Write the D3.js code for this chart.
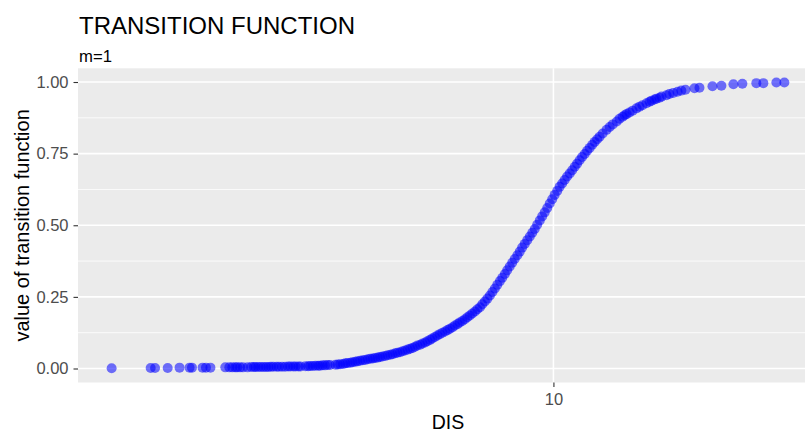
<!DOCTYPE html>
<html>
<head>
<meta charset="utf-8">
<script src="https://cdn.jsdelivr.net/npm/d3@7"></script>
<style>
  html, body { margin: 0; padding: 0; background: #fff; }
  svg { display: block; font-family: "Liberation Sans", Arial, sans-serif; }
</style>
</head>
<body>
<div id="chart"></div>
<script>
// DIS values (x) and transition function values (y)
const dis = [
  1.13, 1.37, 1.40, 1.49, 1.58, 1.66, 1.68, 1.77, 1.80, 1.84, 1.98, 2.02, 2.05, 2.08, 2.10, 2.13, 2.16, 2.21,
  2.25, 2.28, 2.30, 2.33, 2.36, 2.39, 2.42, 2.45, 2.48, 2.51, 2.55, 2.58, 2.62, 2.66, 2.70, 2.73, 2.77, 2.80,
  2.84, 2.87, 2.94, 2.98, 3.01, 3.05, 3.09, 3.13, 3.16, 3.20, 3.24, 3.28, 3.32,
  3.41, 3.45, 3.49, 3.54, 3.58, 3.62, 3.67, 3.71, 3.76, 3.80, 3.85, 3.90, 3.95, 4.00, 4.05, 4.10, 4.15, 4.20,
  4.25, 4.30, 4.36, 4.41, 4.47, 4.52, 4.58, 4.63, 4.69, 4.75, 4.81, 4.87, 4.93, 4.99, 5.05, 5.11, 5.18, 5.24,
  5.31, 5.37, 5.44, 5.50, 5.57, 5.64, 5.71, 5.78, 5.86, 5.93, 6.00, 6.08, 6.15, 6.23, 6.30, 6.38, 6.46, 6.54,
  6.62, 6.70, 6.79, 6.87, 6.96,
  7.04, 7.13, 7.22, 7.31, 7.40, 7.49, 7.58, 7.68, 7.77, 7.87, 7.96, 8.06, 8.16, 8.26, 8.37, 8.47,
  8.57, 8.68, 8.79, 8.90, 9.01, 9.12, 9.23, 9.35, 9.46, 9.58, 9.70, 9.82, 9.94, 10.06, 10.19, 10.31,
  10.44, 10.57, 10.70, 10.84, 10.97, 11.11, 11.24, 11.38, 11.52, 11.67, 11.81, 11.96, 12.11, 12.26, 12.41, 12.56,
  12.75, 13.00, 13.20, 13.40, 13.67, 13.86, 14.07, 14.21, 14.35, 14.56, 14.78, 15.07, 15.29, 15.52, 15.83,
  16.07, 16.23, 16.47, 16.63, 16.88, 17.05, 17.47, 17.72, 18.06, 18.45, 18.80, 19.19, 20.06, 20.56, 21.92,
  22.91, 24.31, 25.41, 27.22, 28.18, 30.05, 31.26
];
const tf = [
  0.001, 0.002, 0.002, 0.002, 0.003, 0.003, 0.003, 0.003, 0.003, 0.003, 0.004, 0.004, 0.004, 0.004, 0.004, 0.004, 0.004, 0.004,
  0.005, 0.005, 0.005, 0.005, 0.005, 0.005, 0.005, 0.005, 0.006, 0.006, 0.006, 0.006, 0.006, 0.006, 0.007, 0.007, 0.007, 0.007,
  0.007, 0.007, 0.008, 0.008, 0.009, 0.009, 0.010, 0.010, 0.010, 0.011, 0.011, 0.012, 0.012,
  0.013, 0.014, 0.015, 0.016, 0.018, 0.019, 0.020, 0.022, 0.024, 0.025, 0.027, 0.029, 0.030, 0.032, 0.034, 0.035, 0.037, 0.038,
  0.040, 0.042, 0.044, 0.046, 0.048, 0.050, 0.053, 0.055, 0.057, 0.060, 0.063, 0.066, 0.069, 0.072, 0.076, 0.080, 0.083, 0.087,
  0.091, 0.095, 0.100, 0.105, 0.110, 0.115, 0.120, 0.125, 0.129, 0.134, 0.139, 0.144, 0.150, 0.155, 0.161, 0.166, 0.172, 0.179,
  0.185, 0.192, 0.199, 0.207, 0.214,
  0.224, 0.234, 0.244, 0.255, 0.267, 0.279, 0.292, 0.305, 0.317, 0.330, 0.343, 0.356, 0.369, 0.382, 0.395, 0.408,
  0.422, 0.435, 0.448, 0.461, 0.474, 0.487, 0.502, 0.517, 0.531, 0.545, 0.560, 0.576, 0.591, 0.606, 0.620, 0.634,
  0.646, 0.658, 0.670, 0.681, 0.692, 0.704, 0.715, 0.727, 0.738, 0.749, 0.760, 0.770, 0.781, 0.791, 0.800, 0.809,
  0.820, 0.833, 0.843, 0.852, 0.862, 0.872, 0.879, 0.884, 0.888, 0.894, 0.900, 0.908, 0.914, 0.919, 0.926,
  0.931, 0.935, 0.939, 0.942, 0.945, 0.949, 0.954, 0.958, 0.962, 0.966, 0.970, 0.973, 0.978, 0.980, 0.985,
  0.987, 0.992, 0.994, 0.996, 0.996, 0.998, 0.998
];

const xTicks = [10];
const yTicks = [0, 0.25, 0.5, 0.75, 1];
const yMinor = [0.125, 0.375, 0.625, 0.875];

const W = 805, H = 433;
const panel = { left: 78, right: 818, top: 68.3, bottom: 382.5 };

const points = dis.map((d, i) => ({ x: d, y: tf[i] }));

// ggplot-style 5% expansion (x in log space)
const lx = d3.extent(dis).map(Math.log10);
const px = (lx[1] - lx[0]) * 0.05;
const x = d3.scaleLog()
  .domain([Math.pow(10, lx[0] - px), Math.pow(10, lx[1] + px)])
  .range([panel.left, panel.right]);

const ye = d3.extent(tf);
const py = (ye[1] - ye[0]) * 0.05;
const y = d3.scaleLinear()
  .domain([ye[0] - py, ye[1] + py])
  .range([panel.bottom, panel.top]);

const svg = d3.select('#chart').append('svg')
  .attr('width', W).attr('height', H);

// Panel background
svg.append('rect')
  .attr('x', panel.left).attr('y', panel.top)
  .attr('width', panel.right - panel.left)
  .attr('height', panel.bottom - panel.top)
  .attr('fill', '#EBEBEB');

// Grid lines
svg.append('g').selectAll('line.minor').data(yMinor).enter().append('line')
  .attr('x1', panel.left).attr('x2', panel.right)
  .attr('y1', d => y(d)).attr('y2', d => y(d))
  .attr('stroke', '#fff').attr('stroke-width', 0.8);

svg.append('g').selectAll('line.major').data(yTicks).enter().append('line')
  .attr('x1', panel.left).attr('x2', panel.right)
  .attr('y1', d => y(d)).attr('y2', d => y(d))
  .attr('stroke', '#fff').attr('stroke-width', 1.6);

svg.append('g').selectAll('line').data(xTicks).enter().append('line')
  .attr('x1', d => x(d)).attr('x2', d => x(d))
  .attr('y1', panel.top).attr('y2', panel.bottom)
  .attr('stroke', '#fff').attr('stroke-width', 1.6);

// Points
svg.append('g').selectAll('circle').data(points).enter().append('circle')
  .attr('cx', d => x(d.x))
  .attr('cy', d => y(d.y))
  .attr('r', 5)
  .attr('fill', '#0000FF')
  .attr('fill-opacity', 0.55);

// Axes
const yAxis = svg.append('g')
  .attr('transform', `translate(${panel.left},0)`)
  .call(d3.axisLeft(y).tickValues(yTicks).tickFormat(d3.format('.2f')).tickSize(4.5).tickPadding(5));

const xAxis = svg.append('g')
  .attr('transform', `translate(0,${panel.bottom})`)
  .call(d3.axisBottom(x).tickValues(xTicks).tickFormat(d3.format('d')).tickSize(4.5).tickPadding(6.5));

[yAxis, xAxis].forEach(ax => {
  ax.select('.domain').remove();
  ax.selectAll('line').attr('stroke', '#333333').attr('stroke-width', 1.1);
  ax.selectAll('text')
    .attr('fill', '#4D4D4D')
    .style('font-size', '16.5px')
    .style('font-family', '"Liberation Sans", Arial, sans-serif');
});

// Titles
svg.append('text')
  .attr('x', 79).attr('y', 34)
  .attr('font-size', 24)
  .attr('fill', '#000')
  .text('TRANSITION FUNCTION');

svg.append('text')
  .attr('x', 79).attr('y', 61.5)
  .attr('font-size', 16.7)
  .attr('fill', '#000')
  .text('m=1');

svg.append('text')
  .attr('x', (panel.left + panel.right) / 2).attr('y', 428.5)
  .attr('text-anchor', 'middle')
  .attr('font-size', 19.5)
  .attr('fill', '#000')
  .text('DIS');

svg.append('text')
  .attr('transform', `translate(28.5,${(panel.top + panel.bottom) / 2}) rotate(-90)`)
  .attr('text-anchor', 'middle')
  .attr('font-size', 20)
  .attr('fill', '#000')
  .text('value of transition function');
</script>
</body>
</html>
